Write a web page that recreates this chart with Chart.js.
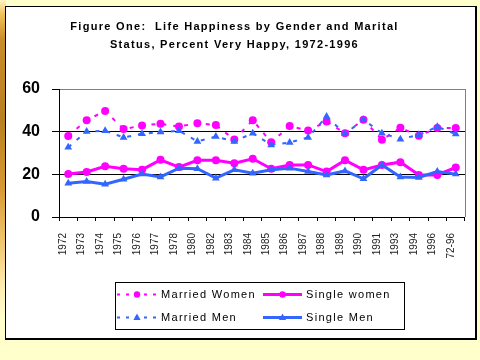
<!DOCTYPE html>
<html>
<head>
<meta charset="utf-8">
<script src="https://cdn.jsdelivr.net/npm/chart.js@4/dist/chart.umd.min.js"></script>
<style>
  html, body { margin: 0; padding: 0; }
  body { width: 480px; height: 360px; background: #FFFFCC; position: relative; overflow: hidden; }
  #strip { position: absolute; left: 0; top: 0; width: 6px; height: 360px;
    background: linear-gradient(to bottom, #FFF6C6 0px, #F0C25A 14px, #C98B2B 40px, #B9801F 120px, #D99A35 190px, #F0C46C 240px, #FFEFB4 290px, #FFFFCC 320px); }
  #panel { position: absolute; left: 5px; top: 6px; width: 472px; height: 334px; box-sizing: border-box;
    background: #FFFFFF; border-left: 1px solid #000; border-top: 1px solid #000;
    border-right: 2px solid #000; border-bottom: 2px solid #000; }
  #c { position: absolute; left: 0; top: 0; }
</style>
</head>
<body>
<div id="strip"></div>
<div id="panel"></div>
<canvas id="c" width="480" height="360"></canvas>
<script>
const categories = ['1972','1973','1974','1975','1976','1977','1978','1980','1982','1983','1984','1985','1986','1987','1988','1989','1990','1991','1993','1994','1996','72-96'];
const marriedWomen = [38, 45.4, 49.7, 41.2, 42.9, 43.7, 42.4, 44, 43.1, 36.3, 45.4, 35, 42.6, 40.5, 44.8, 39.2, 45.6, 36.2, 41.8, 38.1, 41.7, 41.7];
const singleWomen  = [20.2, 21.1, 23.8, 22.6, 22.2, 26.8, 23.4, 26.6, 26.6, 25.2, 27.3, 22.6, 24.4, 24.4, 21.3, 26.6, 22.1, 24.4, 25.7, 19.7, 19.7, 23.2];
const marriedMen   = [32.7, 40.1, 40.4, 37.3, 39, 39.8, 40.4, 35.4, 37.7, 35.4, 39.3, 33.8, 34.9, 37.3, 47.1, 39, 45.6, 39.3, 36.5, 38.5, 42.3, 38.9];
const singleMen    = [15.8, 16.6, 15.4, 17.7, 20.1, 18.8, 22.9, 22.6, 18.2, 22.1, 20.5, 22.1, 22.9, 21.3, 19.7, 21.6, 17.9, 24.4, 18.8, 18.5, 21.3, 20.1];
const yTicks = [0, 20, 40, 60];
const titleLines = ['Figure One:  Life Happiness by Gender and Marital', 'Status, Percent Very Happy, 1972-1996'];
const seriesNames = ['Married Women', 'Single women', 'Married Men', 'Single Men'];

const MAG = '#FF00FF';
const BLUE = '#3366FF';
const FONT = '"Liberation Sans", Arial, sans-serif';

const letterSpacingPlugin = {
  id: 'letterSpacingTitle',
  beforeDraw(chart) {
    const tb = chart.titleBlock;
    if (tb && !tb.__wrapped) {
      const orig = tb.draw.bind(tb);
      tb.draw = function () {
        const c = chart.ctx;
        c.save();
        c.letterSpacing = '1.3px';
        orig();
        c.restore();
      };
      tb.__wrapped = true;
    }
  }
};

const frameAndLegend = {
  id: 'frameAndLegend',
  afterDraw(chart) {
    const ctx = chart.ctx;
    const a = chart.chartArea;
    ctx.save();
    // right gray border of plot area
    ctx.strokeStyle = '#808080';
    ctx.lineWidth = 1;
    ctx.beginPath();
    ctx.moveTo(Math.round(a.right) + 0.5, a.top);
    ctx.lineTo(Math.round(a.right) + 0.5, a.bottom);
    ctx.stroke();

    // legend box
    ctx.strokeStyle = '#000';
    ctx.strokeRect(115.5, 282.5, 289, 47);
    const order = [0, 1, 2, 3];
    const cols = [{ s: 117, e: 157, t: 161 }, { s: 263, e: 302, t: 306 }];
    const rows = [294, 317];
    const ds = chart.data.datasets;
    order.forEach((di, k) => {
      const d = ds[di];
      const col = cols[k % 2];
      const y = rows[Math.floor(k / 2)] + 0.5;
      ctx.save();
      ctx.strokeStyle = d.borderColor;
      ctx.lineWidth = d.borderWidth;
      ctx.setLineDash(d.borderDash && d.borderDash.length ? [3, 6] : []);
      ctx.beginPath();
      ctx.moveTo(col.s, y);
      ctx.lineTo(col.e, y);
      ctx.stroke();
      ctx.setLineDash([]);
      const mx = (col.s + col.e) / 2;
      ctx.fillStyle = d.pointBackgroundColor;
      ctx.beginPath();
      if (d.pointStyle === 'triangle') {
        const r = 4;
        ctx.moveTo(mx, y - r);
        ctx.lineTo(mx + r * 0.9, y + r * 0.6);
        ctx.lineTo(mx - r * 0.9, y + r * 0.6);
        ctx.closePath();
      } else {
        ctx.arc(mx, y, 3.2, 0, Math.PI * 2);
      }
      ctx.fill();
      ctx.restore();
      ctx.save();
      ctx.fillStyle = '#000';
      ctx.font = '11px ' + FONT;
      ctx.letterSpacing = '1.3px';
      ctx.textBaseline = 'middle';
      ctx.textAlign = 'left';
      ctx.fillText(d.label, col.t, y);
      ctx.restore();
    });
    ctx.restore();
  }
};

function mkDs(label, data, color, dashed, style, order) {
  return {
    label: label,
    data: data,
    borderColor: color,
    backgroundColor: color,
    pointBackgroundColor: color,
    pointBorderColor: color,
    borderWidth: dashed ? 2 : 3,
    borderDash: dashed ? [4, 7] : [],
    pointStyle: style,
    pointRadius: style === 'triangle' ? 4.5 : 4,
    pointBorderWidth: 0,
    tension: 0,
    fill: false,
    order: order
  };
}

new Chart(document.getElementById('c'), {
  type: 'line',
  data: {
    labels: categories,
    datasets: [
      mkDs(seriesNames[0], marriedWomen, MAG, true, 'circle', 4),
      mkDs(seriesNames[1], singleWomen, MAG, false, 'circle', 3),
      mkDs(seriesNames[2], marriedMen, BLUE, true, 'triangle', 2),
      mkDs(seriesNames[3], singleMen, BLUE, false, 'triangle', 1)
    ]
  },
  options: {
    responsive: false,
    devicePixelRatio: 1,
    animation: false,
    layout: { padding: { left: 0, right: 11, top: 0, bottom: 0 } },
    plugins: {
      legend: { display: false },
      tooltip: { enabled: false },
      title: {
        display: true,
        text: titleLines,
        color: '#000',
        font: { family: FONT, size: 11, weight: 'bold', lineHeight: 18 / 11 },
        padding: { top: 18, bottom: 35 }
      }
    },
    scales: {
      x: {
        type: 'category',
        offset: true,
        grid: { offset: true, drawOnChartArea: false, drawTicks: true, tickLength: 4, color: '#000', tickColor: '#000' },
        border: { display: true, color: '#000', width: 1 },
        ticks: {
          autoSkip: false, minRotation: 90, maxRotation: 90,
          font: { family: FONT, size: 10 }, color: '#222', padding: 12, labelOffset: -5
        },
        afterFit(scale) { scale.height = 143; }
      },
      y: {
        min: 0, max: 60,
        afterBuildTicks(scale) { scale.ticks = yTicks.map(v => ({ value: v })); },
        grid: {
          color: (c) => (c.tick && c.tick.value === 60 ? '#808080' : '#000'),
          tickColor: '#000', tickLength: 7, lineWidth: 1
        },
        border: { display: true, color: '#000', width: 1 },
        ticks: { font: { family: FONT, size: 16, weight: 'bold' }, color: '#000', padding: 12 },
        afterFit(scale) { scale.width = 59; }
      }
    }
  },
  plugins: [letterSpacingPlugin, frameAndLegend]
});
</script>
</body>
</html>
